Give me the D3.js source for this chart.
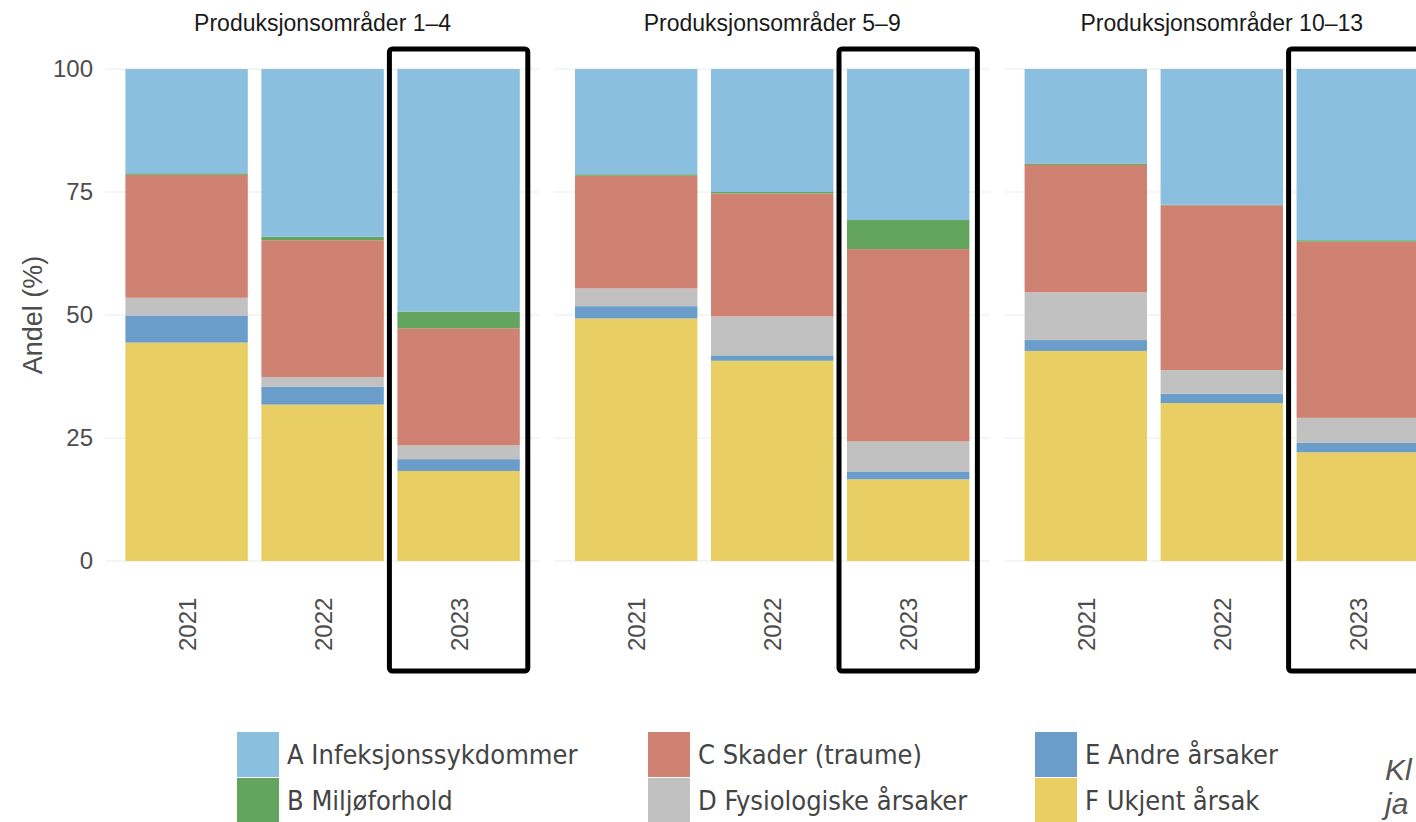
<!DOCTYPE html>
<html>
<head>
<meta charset="utf-8">
<script src="https://cdn.jsdelivr.net/npm/d3@7"></script>
<style>
  body { margin: 0; background: #fff; }
  svg { display: block; }
  .grid line { stroke: #ebebeb; stroke-width: 1.2; }
  .axis text { font-family: "Liberation Sans", Arial, sans-serif; fill: #4d4d4d; }
  .legend text { font-family: "DejaVu Sans Condensed", "DejaVu Sans", sans-serif; fill: #444; }
</style>
</head>
<body>
<div id="chart"></div>
<script>
var years = ["2021", "2022", "2023"];
var panels = ["Produksjonsområder 1–4", "Produksjonsområder 5–9", "Produksjonsområder 10–13"];
var yTicks = [0, 25, 50, 75, 100];

// share (%) per panel, per year
var infeksjon  = [[21.2, 34.1, 49.3], [21.4, 25.0, 30.7], [19.2, 27.6, 34.8]];
var miljo      = [[0.3, 0.7, 3.4],    [0.3, 0.3, 5.9],    [0.3, 0.1, 0.3]];
var skader     = [[25.0, 27.8, 23.8], [22.9, 25.0, 39.1], [25.9, 33.5, 35.8]];
var fysiologi  = [[3.6, 2.0, 2.8],    [3.6, 7.9, 6.1],    [9.7, 4.8, 5.1]];
var andre      = [[5.5, 3.6, 2.4],    [2.5, 1.1, 1.6],    [2.2, 1.9, 1.9]];
var ukjent     = [[44.4, 31.8, 18.3], [49.3, 40.7, 16.6], [42.7, 32.1, 22.1]];

var keys = ["F", "E", "D", "C", "B", "A"]; // bottom to top
var labels = {
  A: "A Infeksjonssykdommer", B: "B Miljøforhold", C: "C Skader (traume)",
  D: "D Fysiologiske årsaker", E: "E Andre årsaker", F: "F Ukjent årsak"
};
var colors = {
  A: "#8bbfe0", B: "#63a55f", C: "#d08272", D: "#c1c1c1", E: "#6a9dca", F: "#e9ce63"
};
var series = { A: infeksjon, B: miljo, C: skader, D: fysiologi, E: andre, F: ukjent };

var W = 1416, H = 822;
var svg = d3.select("#chart").append("svg")
    .attr("width", W)
    .attr("height", H);

var y = d3.scaleLinear().domain([0, 100]).range([561, 69]);
var panelW = 435.2, panelStep = 449.6;

// y axis
var yAxis = svg.append("g").attr("class", "axis")
    .attr("transform", "translate(103,0)")
    .call(d3.axisLeft(y).tickValues(yTicks).tickSize(0).tickPadding(10));
yAxis.select(".domain").remove();
yAxis.selectAll("text").style("font-size", "24px");

svg.append("text")
    .attr("transform", "translate(42,315) rotate(-90)")
    .attr("text-anchor", "middle")
    .style("font-family", "Liberation Sans, Arial, sans-serif")
    .style("font-size", "27px")
    .style("fill", "#4d4d4d")
    .text("Andel (%)");

panels.forEach(function(p, pi) {
  var x0 = 105 + pi * panelStep;
  var g = svg.append("g").attr("transform", "translate(" + x0 + ",0)");

  var x = d3.scaleBand().domain(years).range([0, panelW])
      .paddingInner(0.1).paddingOuter(0.15);

  g.append("g").attr("class", "grid")
    .selectAll("line").data(yTicks).enter().append("line")
      .attr("x1", 0).attr("x2", panelW)
      .attr("y1", function(d) { return y(d); })
      .attr("y2", function(d) { return y(d); });

  var rows = years.map(function(yr, yi) {
    var r = { year: yr };
    keys.forEach(function(k) { r[k] = series[k][pi][yi]; });
    return r;
  });
  var stacked = d3.stack().keys(keys)(rows);

  g.selectAll(".layer").data(stacked).enter().append("g")
      .attr("class", "layer")
      .attr("fill", function(d) { return colors[d.key]; })
    .selectAll("rect").data(function(d) { return d; }).enter().append("rect")
      .attr("x", function(d) { return x(d.data.year); })
      .attr("width", x.bandwidth())
      .attr("y", function(d) { return y(d[1]); })
      .attr("height", function(d) { return y(d[0]) - y(d[1]); });

  // x labels
  g.selectAll(".xlab").data(years).enter().append("text")
      .attr("class", "xlab")
      .attr("transform", function(d) {
        return "translate(" + (x(d) + x.bandwidth() / 2 + 9) + ",651) rotate(-90)";
      })
      .attr("text-anchor", "start")
      .style("font-family", "Liberation Sans, Arial, sans-serif")
      .style("font-size", "24px")
      .style("fill", "#4d4d4d")
      .text(function(d) { return d; });

  // panel title
  g.append("text")
      .attr("x", panelW / 2)
      .attr("y", 31)
      .attr("text-anchor", "middle")
      .style("font-family", "Liberation Sans, Arial, sans-serif")
      .style("font-size", "23px")
      .style("fill", "#1a1a1a")
      .text(p);

  // highlight box round 2023
  g.append("rect")
      .attr("x", x("2023") - 8)
      .attr("y", 49)
      .attr("width", x.bandwidth() + 16)
      .attr("height", 622)
      .attr("rx", 3)
      .attr("fill", "none")
      .attr("stroke", "#000")
      .attr("stroke-width", 5);
});

// legend
var legendPos = [
  { k: "A", x: 237, y: 732 }, { k: "B", x: 237, y: 778 },
  { k: "C", x: 648, y: 732 }, { k: "D", x: 648, y: 778 },
  { k: "E", x: 1035, y: 732 }, { k: "F", x: 1035, y: 778 }
];
var leg = svg.append("g").attr("class", "legend");
var item = leg.selectAll("g").data(legendPos).enter().append("g")
    .attr("transform", function(d) { return "translate(" + d.x + "," + d.y + ")"; });
item.append("rect")
    .attr("width", 42).attr("height", 45)
    .attr("fill", function(d) { return colors[d.k]; });
item.append("text")
    .attr("x", 50).attr("y", 32)
    .style("font-size", "27px")
    .text(function(d) { return labels[d.k]; });

// cut-off note at right edge
svg.append("text").attr("x", 1385).attr("y", 780)
    .style("font-family", "Liberation Sans, Arial, sans-serif")
    .style("font-style", "italic").style("font-size", "30px").style("fill", "#555")
    .text("Kl");
svg.append("text").attr("x", 1385).attr("y", 814)
    .style("font-family", "Liberation Sans, Arial, sans-serif")
    .style("font-style", "italic").style("font-size", "30px").style("fill", "#555")
    .text("ja");
</script>
</body>
</html>
